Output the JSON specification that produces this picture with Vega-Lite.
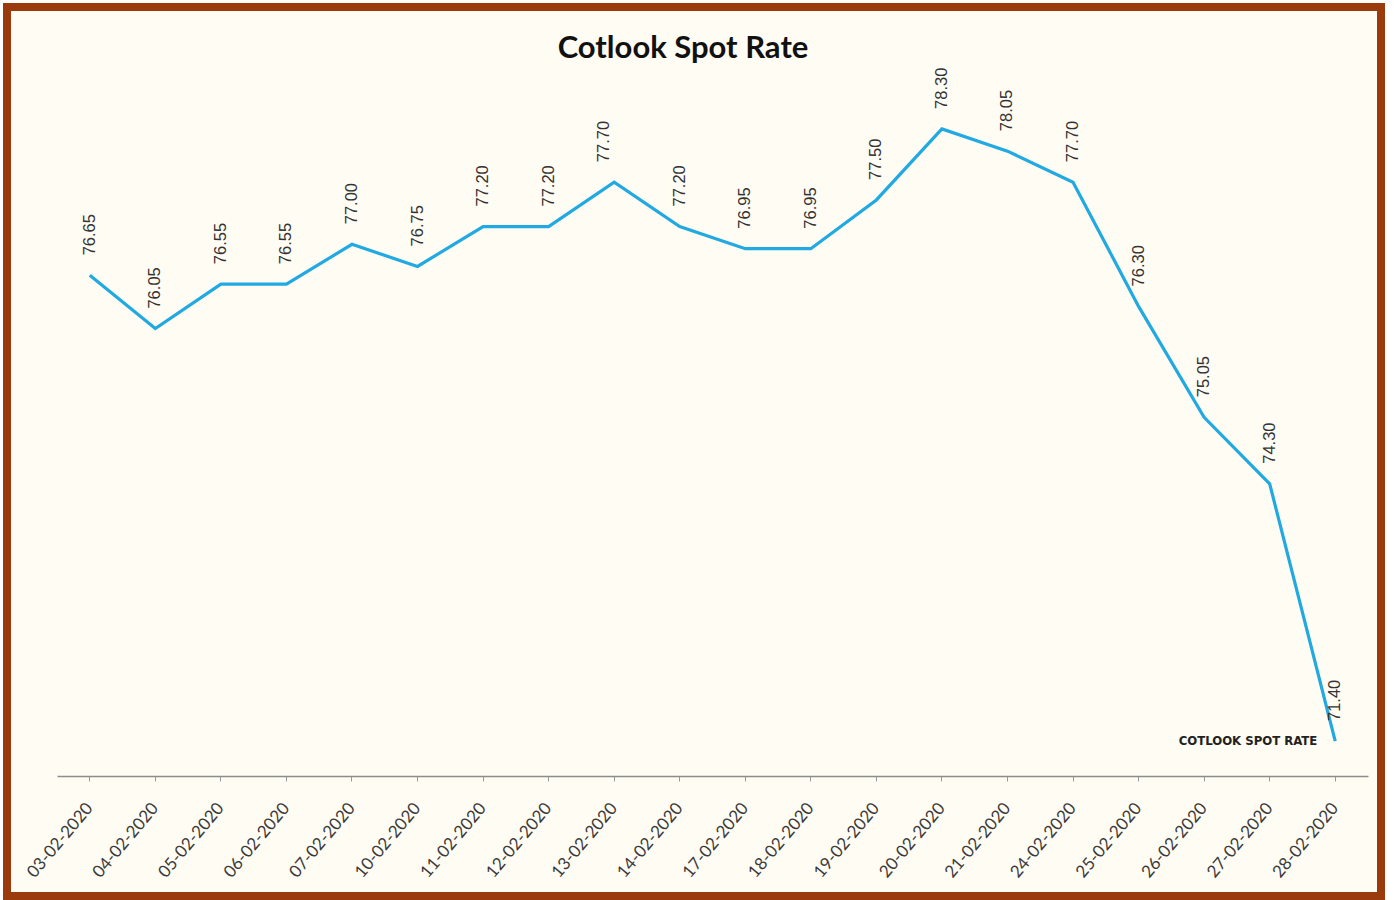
{
  "$schema": "https://vega.github.io/schema/vega-lite/v6.json",
  "autosize": "none",
  "width": 1374,
  "height": 889,
  "padding": {"left": 7, "top": 7, "right": 13, "bottom": 4},
  "background": "#FFFFFF",
  "title": {
    "text": "Cotlook Spot Rate",
    "font": "Lato",
    "fontSize": 31,
    "fontWeight": "bold",
    "color": "#111111",
    "anchor": "middle",
    "baseline": "alphabetic",
    "dx": -11,
    "offset": -82
  },
  "data": {
    "values": [
      {"date": "03-02-2020", "rate": 76.65},
      {"date": "04-02-2020", "rate": 76.05},
      {"date": "05-02-2020", "rate": 76.55},
      {"date": "06-02-2020", "rate": 76.55},
      {"date": "07-02-2020", "rate": 77.00},
      {"date": "10-02-2020", "rate": 76.75},
      {"date": "11-02-2020", "rate": 77.20},
      {"date": "12-02-2020", "rate": 77.20},
      {"date": "13-02-2020", "rate": 77.70},
      {"date": "14-02-2020", "rate": 77.20},
      {"date": "17-02-2020", "rate": 76.95},
      {"date": "18-02-2020", "rate": 76.95},
      {"date": "19-02-2020", "rate": 77.50},
      {"date": "20-02-2020", "rate": 78.30},
      {"date": "21-02-2020", "rate": 78.05},
      {"date": "24-02-2020", "rate": 77.70},
      {"date": "25-02-2020", "rate": 76.30},
      {"date": "26-02-2020", "rate": 75.05},
      {"date": "27-02-2020", "rate": 74.30},
      {"date": "28-02-2020", "rate": 71.40}
    ]
  },
  "encoding": {
    "x": {
      "field": "date",
      "type": "ordinal",
      "sort": null,
      "bandPosition": 0.5,
      "scale": {"type": "band", "range": [50, 1361], "paddingInner": 0, "paddingOuter": 0},
      "axis": {
        "orient": "bottom",
        "offset": -120,
        "title": null,
        "domainColor": "#8C8C8C",
        "domainWidth": 1.5,
        "tickColor": "#9A9A9A",
        "tickSize": 5,
        "tickWidth": 1,
        "labelAngle": -50,
        "labelAlign": "right",
        "labelBaseline": "middle",
        "labelPadding": 24,
        "labelFont": "Lato",
        "labelFontSize": 17,
        "labelColor": "#3A3A3A"
      }
    },
    "y": {
      "field": "rate",
      "type": "quantitative",
      "scale": {"domain": [69.653, 79.675], "nice": false, "zero": false},
      "axis": null
    }
  },
  "layer": [
    {
      "mark": {"type": "line", "color": "#21A9E1", "strokeWidth": 3.2}
    },
    {
      "transform": [{"filter": "datum.date != '13-02-2020'"}],
      "mark": {
        "type": "text",
        "angle": 270,
        "align": "left",
        "baseline": "middle",
        "dx": 20,
        "font": "Liberation Sans",
        "fontSize": 16.5,
        "color": "#333333"
      },
      "encoding": {
        "text": {"field": "rate", "type": "quantitative", "format": ".2f"}
      }
    },
    {
      "transform": [{"filter": "datum.date == '13-02-2020'"}],
      "mark": {
        "type": "text",
        "angle": 270,
        "align": "left",
        "baseline": "middle",
        "dx": 20,
        "dy": -10,
        "font": "Liberation Sans",
        "fontSize": 16.5,
        "color": "#333333"
      },
      "encoding": {
        "text": {"field": "rate", "type": "quantitative", "format": ".2f"}
      }
    },
    {
      "transform": [{"filter": "datum.date == '28-02-2020'"}],
      "mark": {
        "type": "text",
        "align": "right",
        "baseline": "middle",
        "dx": -18,
        "font": "DejaVu Sans Condensed, Liberation Sans Narrow, Roboto, sans-serif",
        "fontSize": 13,
        "fontWeight": "bold",
        "color": "#222222"
      },
      "encoding": {
        "text": {"value": "COTLOOK SPOT RATE"}
      }
    }
  ],
  "config": {
    "view": {"fill": "#FFFCF3", "stroke": "#9B3A0C", "strokeWidth": 8}
  }
}
